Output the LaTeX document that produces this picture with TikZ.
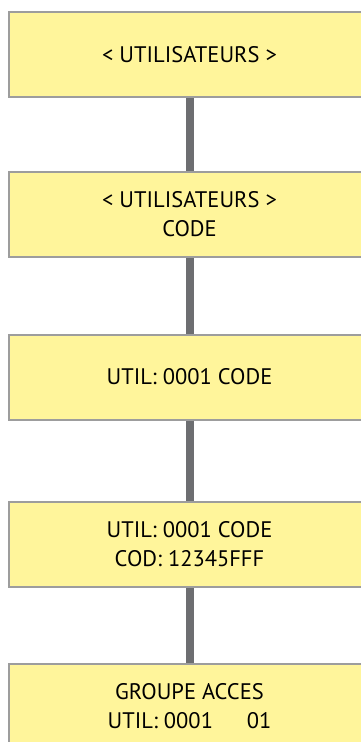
\documentclass[tikz,border=0pt]{standalone}
\usepackage{fontspec}
\setmainfont{PT Sans}
\usepackage{tikz}
\usetikzlibrary{positioning}
\definecolor{boxfill}{HTML}{FFF59B}
\definecolor{boxline}{HTML}{9D9D9D}
\definecolor{linkgray}{HTML}{6D6E71}

\begin{document}
\begin{tikzpicture}[x=1pt,y=-1pt,
  menu/.style={draw=boxline, line width=2pt, fill=boxfill, minimum width=361pt,
    minimum height=85pt, align=center, inner sep=0pt,
    font=\fontsize{22.5}{29}\selectfont},
  link/.style={linkgray, line width=8pt}]
\useasboundingbox (0,0) rectangle (361,742);
\node[menu] (utils) at (189.5,54.5) {< UTILISATEURS >};
\node[menu] (code) at (189.5,214.5) {< UTILISATEURS >\\CODE};
\node[menu] (utilcode) at (189.5,377) {UTIL: 0001 CODE};
\node[menu] (codval) at (189.5,544.5) {UTIL: 0001 CODE\\COD: 12345FFF};
\node[menu] (groupe) at (189.5,706.5) {GROUPE ACCES\\UTIL: 0001\hspace{1.5em}01};
% liaisons
\draw[link] (utils) -- (code);
\draw[link] (code) -- (utilcode);
\draw[link] (utilcode) -- (codval);
\draw[link] (codval) -- (groupe);
\end{tikzpicture}
\end{document}
